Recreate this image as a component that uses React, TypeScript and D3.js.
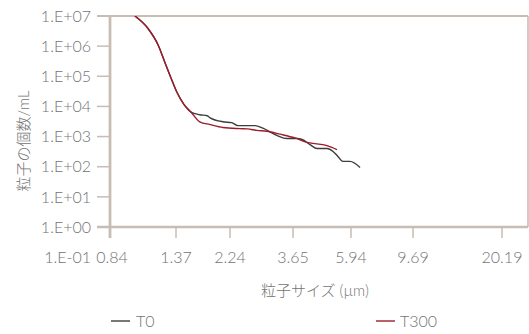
import * as d3 from 'd3';
import React from 'react';

// x tick labels (particle size, µm) and y decades
const xTicks = [0.84, 1.37, 2.24, 3.65, 5.94, 9.69, 20.19];
const yTicks = [1e0, 1e1, 1e2, 1e3, 1e4, 1e5, 1e6, 1e7];

// T0 series
const sizeT0 = [1.01, 1.11, 1.20, 1.26, 1.32, 1.38, 1.47, 1.57, 1.70, 1.82, 1.87, 2.10, 2.27, 2.38, 2.72, 2.89, 3.22, 3.48, 3.78, 3.94, 4.21, 4.47, 4.86, 5.11, 5.32, 5.55, 5.89, 6.38];
const countT0 = [1e7, 4.0e6, 1.09e6, 3.0e5, 8.8e4, 3.0e4, 1.2e4, 6.5e3, 5.3e3, 4.9e3, 4.2e3, 3.1e3, 2.9e3, 2.3e3, 2.3e3, 1.9e3, 1.1e3, 860, 860, 800, 540, 400, 400, 320, 220, 150, 150, 94];

// T300 series
const sizeT300 = [1.01, 1.11, 1.20, 1.26, 1.32, 1.38, 1.47, 1.57, 1.70, 1.87, 2.10, 2.42, 2.56, 2.76, 2.98, 3.30, 3.71, 4.11, 4.86, 5.28];
const countT300 = [1e7, 4.0e6, 1.09e6, 3.0e5, 8.8e4, 3.0e4, 1.2e4, 6.5e3, 3.1e3, 2.5e3, 2.0e3, 1.84e3, 1.8e3, 1.6e3, 1.5e3, 1.2e3, 900, 640, 500, 370];

const W = 529;
const H = 334;
const left = 110;
const right = 528;
const top = 16;
const bottom = 227;
const axisColor = '#c7bdb5';
const textColor = '#737373';
const font = 'Lato, "Noto Sans CJK JP", sans-serif';

export default function App() {
  // the x axis is spaced unevenly in the source, so piecewise log scale
  const x = d3.scaleLog().domain(xTicks).range([left, 176, 230, 293, 351, 413, 502]);
  const y = d3.scaleLog().domain([0.1, 1e7]).range([bottom + (bottom - top) / 7, top]);

  const line = d3.line<[number, number]>()
    .x(d => x(d[0]))
    .y(d => y(d[1]))
    .curve(d3.curveMonotoneX);

  const t0 = sizeT0.map((s, i) => [s, countT0[i]] as [number, number]);
  const t300 = sizeT300.map((s, i) => [s, countT300[i]] as [number, number]);

  const fmt = (v: number) => '1.E' + (v < 1 ? '-' : '+') + String(Math.abs(Math.round(Math.log10(v)))).padStart(2, '0');

  return (
    <svg width={W} height={H} style={{position: 'absolute', left: 0, top: 0}} fontFamily={font}>
      <defs>
        <clipPath id="plot">
          <rect x={left} y={top} width={right - left} height={bottom - top} />
        </clipPath>
      </defs>

      {/* frame */}
      <line x1={97} x2={right} y1={top} y2={top} stroke={axisColor} strokeWidth={2.2} />
      <line x1={right} x2={right} y1={top} y2={bottom} stroke={axisColor} strokeWidth={1.6} />
      <line x1={97} x2={right} y1={bottom} y2={bottom} stroke={axisColor} strokeWidth={2.6} />
      <line x1={left} x2={left} y1={top} y2={bottom + 11} stroke={axisColor} strokeWidth={2.8} />

      {/* y axis */}
      {yTicks.map(v => (
        <line key={'yt' + v} x1={97} x2={left} y1={y(v)} y2={y(v)} stroke={axisColor} strokeWidth={1.5} />
      ))}
      {[0.1, ...yTicks].map(v => (
        <text key={'yl' + v} x={91} y={y(v)} dy="0.36em" textAnchor="end" fontSize={16} fill={textColor} fontWeight={300}>
          {fmt(v)}
        </text>
      ))}

      {/* x axis */}
      {xTicks.map((v, i) => (
        <g key={'xt' + v}>
          {i > 0 && <line x1={x(v)} x2={x(v)} y1={bottom} y2={bottom + 11} stroke={axisColor} strokeWidth={1.5} />}
          <text x={x(v) + (i === 0 ? 2 : 0)} y={y(0.1)} dy="0.36em" textAnchor="middle" fontSize={16} fill={textColor} fontWeight={300}>
            {v.toFixed(2)}
          </text>
        </g>
      ))}

      {/* titles */}
      <text x={315} y={291} dy="0.36em" textAnchor="middle" fontSize={15} fill={textColor} fontWeight={300}>粒子サイズ (µm)</text>
      <text transform="translate(24,141) rotate(-90)" dy="0.36em" textAnchor="middle" fontSize={15} fill={textColor} fontWeight={300}>粒子の個数/mL</text>

      {/* series */}
      <g clipPath="url(#plot)" fill="none">
        <path d={line(t0) || ''} stroke="#3d3d3d" strokeWidth={1.4} />
        <path d={line(t300) || ''} stroke="#9e1b2a" strokeWidth={1.4} />
      </g>

      {/* legend */}
      <line x1={111} x2={130} y1={321} y2={321} stroke="#3d3d3d" strokeWidth={1.4} />
      <text x={136} y={321} dy="0.36em" fontSize={16} fill={textColor} fontWeight={300}>T0</text>
      <line x1={376} x2={395} y1={321} y2={321} stroke="#9e1b2a" strokeWidth={1.4} />
      <text x={400} y={321} dy="0.36em" fontSize={16} fill={textColor} fontWeight={300}>T300</text>
    </svg>
  );
}
